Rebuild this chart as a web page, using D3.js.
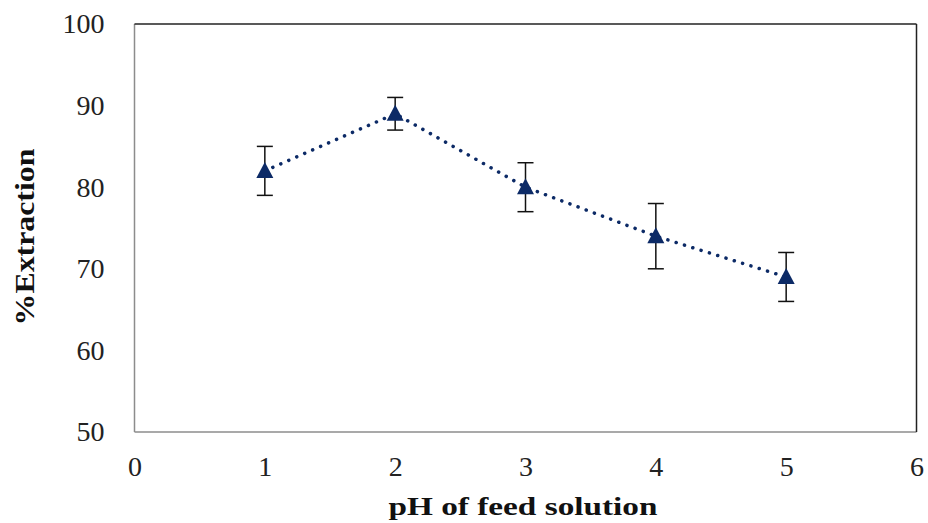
<!DOCTYPE html>
<html>
<head>
<meta charset="utf-8">
<script src="https://cdn.jsdelivr.net/npm/d3@7"></script>
<style>
  body { margin: 0; background: #fff; }
  svg { display: block; }
</style>
</head>
<body>
<div id="chart"></div>
<script>
// pH values and % extraction with error (+/-)
var phValues = [1, 2, 3, 4, 5];
var extraction = [82, 89, 80, 74, 69];
var errors = [3, 2, 3, 4, 3];
var xTicks = [0, 1, 2, 3, 4, 5, 6];
var yTicks = [50, 60, 70, 80, 90, 100];

var width = 928, height = 523;
var margin = {top: 24, right: 11.5, bottom: 91, left: 134.5};
var w = width - margin.left - margin.right,
    h = height - margin.top - margin.bottom;

var data = phValues.map(function(p, i) {
    return {ph: p, y: extraction[i], err: errors[i]};
});

var x = d3.scaleLinear().domain([0, 6]).range([0, w]);
var y = d3.scaleLinear().domain([50, 100]).range([h, 0]);

var svg = d3.select("#chart")
    .append("svg")
    .attr("width", width)
    .attr("height", height);

var g = svg.append("g")
    .attr("transform", "translate(" + margin.left + "," + margin.top + ")");

var tickFont = "'Liberation Serif', 'DejaVu Serif', serif";

// axis-x
var xAxis = g.append("g")
    .attr("transform", "translate(0," + h + ")")
    .call(d3.axisBottom(x).tickValues(xTicks).tickSize(0).tickPadding(24).tickFormat(d3.format("d")));
xAxis.select(".domain").remove();
xAxis.selectAll("text")
    .attr("font-family", tickFont)
    .attr("font-size", "28px")
    .attr("fill", "#222");

// axis-y
var yAxis = g.append("g")
    .call(d3.axisLeft(y).tickValues(yTicks).tickSize(0).tickPadding(30).tickFormat(d3.format("d")));
yAxis.select(".domain").remove();
yAxis.selectAll("text")
    .attr("font-family", tickFont)
    .attr("font-size", "28px")
    .attr("fill", "#222");

// plot frame: left/bottom grey, top/right dark
g.append("line").attr("x1", 0).attr("x2", 0).attr("y1", 0).attr("y2", h)
    .attr("stroke", "#8c8c8c").attr("stroke-width", 1.5);
g.append("line").attr("x1", 0).attr("x2", w).attr("y1", h).attr("y2", h)
    .attr("stroke", "#8c8c8c").attr("stroke-width", 1.5);
g.append("line").attr("x1", 0).attr("x2", w).attr("y1", 0).attr("y2", 0)
    .attr("stroke", "#222").attr("stroke-width", 1.5);
g.append("line").attr("x1", w).attr("x2", w).attr("y1", 0).attr("y2", h)
    .attr("stroke", "#222").attr("stroke-width", 1.5);

// dotted line
var line = d3.line()
    .x(function(d) { return x(d.ph); })
    .y(function(d) { return y(d.y); });

g.append("path")
    .attr("d", line(data))
    .attr("fill", "none")
    .attr("stroke", "#0c2a66")
    .attr("stroke-width", 3.5)
    .attr("stroke-linecap", "round")
    .attr("stroke-dasharray", "0.1 8.6");

// error bars
var eb = g.selectAll(".err")
    .data(data)
    .enter().append("g")
    .attr("stroke", "#111")
    .attr("stroke-width", 1.5);

eb.append("line")
    .attr("x1", function(d) { return x(d.ph); })
    .attr("x2", function(d) { return x(d.ph); })
    .attr("y1", function(d) { return y(d.y + d.err); })
    .attr("y2", function(d) { return y(d.y - d.err); });
eb.append("line")
    .attr("x1", function(d) { return x(d.ph) - 8; })
    .attr("x2", function(d) { return x(d.ph) + 8; })
    .attr("y1", function(d) { return y(d.y + d.err); })
    .attr("y2", function(d) { return y(d.y + d.err); });
eb.append("line")
    .attr("x1", function(d) { return x(d.ph) - 8; })
    .attr("x2", function(d) { return x(d.ph) + 8; })
    .attr("y1", function(d) { return y(d.y - d.err); })
    .attr("y2", function(d) { return y(d.y - d.err); });

// triangle markers
g.selectAll(".pt")
    .data(data)
    .enter().append("path")
    .attr("transform", function(d) { return "translate(" + x(d.ph) + "," + y(d.y) + ")"; })
    .attr("d", "M0,-9 L8.5,7 L-8.5,7 Z")
    .attr("fill", "#0c2a66");

// axis titles, widened like the source image
svg.append("text")
    .attr("transform", "translate(523,515) scale(1.28,1)")
    .attr("text-anchor", "middle")
    .attr("font-family", tickFont)
    .attr("font-weight", "bold")
    .attr("font-size", "26px")
    .attr("fill", "#111")
    .text("pH  of feed solution");

svg.append("text")
    .attr("transform", "translate(34,237) rotate(-90) scale(1.18,1)")
    .attr("text-anchor", "middle")
    .attr("font-family", tickFont)
    .attr("font-weight", "bold")
    .attr("font-size", "27px")
    .attr("fill", "#111")
    .text("%Extraction");
</script>
</body>
</html>
